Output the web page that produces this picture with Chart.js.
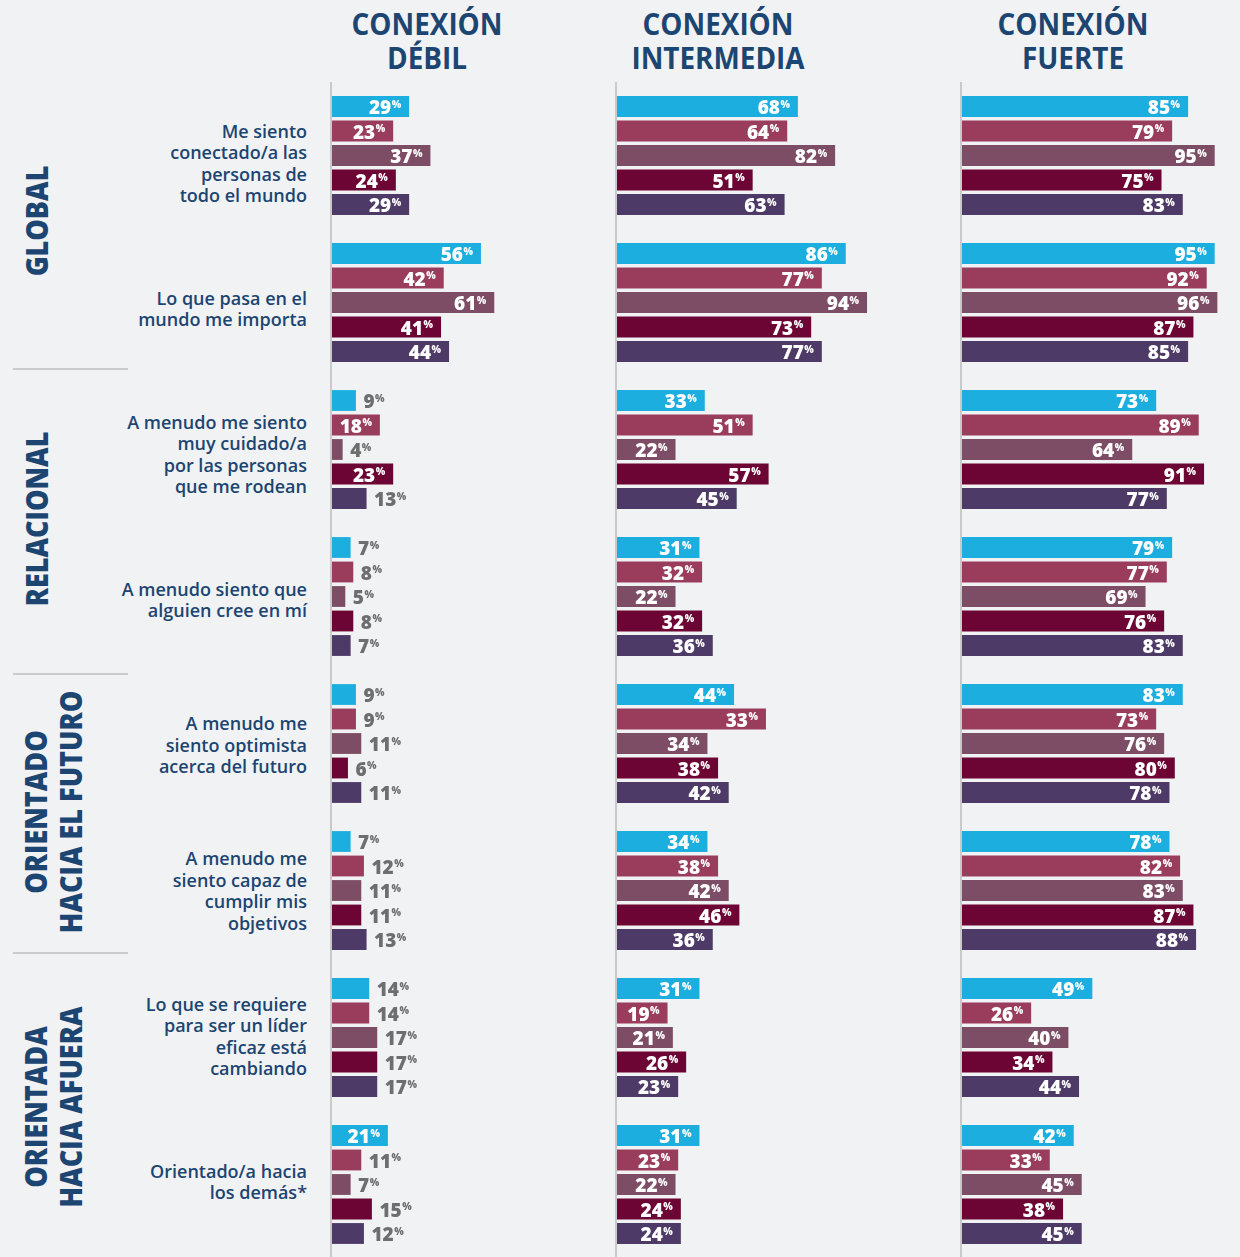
<!DOCTYPE html>
<html lang="es">
<head>
<meta charset="utf-8">
<title>Conexión</title>
<script src="https://cdn.jsdelivr.net/npm/chart.js@4.4.1/dist/chart.umd.min.js"></script>
<style>
  html, body { margin:0; padding:0; background:#f1f2f4; }
  body { width:1240px; height:1257px; overflow:hidden; position:relative; font-family:'Open Sans', sans-serif; }
  .hdr { position:absolute; top:7px; width:320px; margin-left:-160px; text-align:center;
         font:700 30px/34px 'Open Sans', sans-serif; color:#1c4571; transform:scaleX(0.93); }
  .q { position:absolute; right:933px; text-align:right; white-space:nowrap;
       font:600 18px/21.5px 'Open Sans', sans-serif; letter-spacing:0px; color:#1c4571; }
  .sec { position:absolute; text-align:center; white-space:nowrap;
         font:800 30px/35px 'Open Sans', sans-serif; color:#1c4571;
         transform:translate(-50%,-50%) rotate(-90deg) scaleX(0.9); }
  .sep { position:absolute; left:13px; width:115px; height:2px; background:#cbcbcd; }
  canvas { position:absolute; top:82px; }
</style>
</head>
<body>
<canvas id="cDebil" width="268" height="1176" style="left:330px"></canvas>
<canvas id="cInter" width="268" height="1176" style="left:615px"></canvas>
<canvas id="cFuerte" width="268" height="1176" style="left:960px"></canvas>
<script>
// ---------- DATA ----------
const panelTitles = [["CONEXIÓN","DÉBIL"],["CONEXIÓN","INTERMEDIA"],["CONEXIÓN","FUERTE"]];

const categories = [
  ["Me siento","conectado/a las","personas de","todo el mundo"],
  ["Lo que pasa en el","mundo me importa"],
  ["A menudo me siento","muy cuidado/a","por las personas","que me rodean"],
  ["A menudo siento que","alguien cree en mí"],
  ["A menudo me","siento optimista","acerca del futuro"],
  ["A menudo me","siento capaz de","cumplir mis","objetivos"],
  ["Lo que se requiere","para ser un líder","eficaz está","cambiando"],
  ["Orientado/a hacia","los demás*"]
];

const sectionNames = [["GLOBAL"],["RELACIONAL"],["ORIENTADO","HACIA EL FUTURO"],["ORIENTADA","HACIA AFUERA"]];

// Conexión débil (5 series per statement)
const debilSerie1 = [29, 56,  9, 7,  9,  7, 14, 21];
const debilSerie2 = [23, 42, 18, 8,  9, 12, 14, 11];
const debilSerie3 = [37, 61,  4, 5, 11, 11, 17,  7];
const debilSerie4 = [24, 41, 23, 8,  6, 11, 17, 15];
const debilSerie5 = [29, 44, 13, 7, 11, 13, 17, 12];

// Conexión intermedia
const interSerie1 = [68, 86, 33, 31, 44, 34, 31, 31];
const interSerie2 = [64, 77, 51, 32, 56, 38, 19, 23];
const interSerie3 = [82, 94, 22, 22, 34, 42, 21, 22];
const interSerie4 = [51, 73, 57, 32, 38, 46, 26, 24];
const interSerie5 = [63, 77, 45, 36, 42, 36, 23, 24];
// label printed in the source differs from the drawn bar length for this one bar
const interSerie2Printed = [64, 77, 51, 32, 33, 38, 19, 23];

// Conexión fuerte
const fuerteSerie1 = [85, 95, 73, 79, 83, 78, 49, 42];
const fuerteSerie2 = [79, 92, 89, 77, 73, 82, 26, 33];
const fuerteSerie3 = [95, 96, 64, 69, 76, 83, 40, 45];
const fuerteSerie4 = [75, 87, 91, 76, 80, 87, 34, 38];
const fuerteSerie5 = [83, 85, 77, 83, 78, 88, 44, 45];

// ---------- STYLE ----------
const seriesColors = ['#1daee0','#9a3d5d','#7d4d65','#6c0533','#4d3a66'];
const insideThreshold = 18;
const axisColor = '#c9c9cb';

const axisLinePlugin = {
  id:'axisLine',
  beforeDraw(chart){
    const c = chart.ctx;
    c.save();
    c.fillStyle = axisColor;
    c.fillRect(chart.chartArea.left - 2, 0, 2, chart.height);
    c.restore();
  }
};

const valueLabelPlugin = {
  id:'valueLabels',
  afterDatasetsDraw(chart){
    const c = chart.ctx;
    c.save();
    chart.data.datasets.forEach((ds, di) => {
      const meta = chart.getDatasetMeta(di);
      meta.data.forEach((bar, i) => {
        const v = ds.data[i];
        const shown = String(ds.printed ? ds.printed[i] : v);
        c.font = '800 19px "Open Sans"';
        const nW = c.measureText(shown).width;
        c.font = '800 10px "Open Sans"';
        const pW = c.measureText('%').width;
        const inside = v >= insideThreshold;
        const x0 = inside ? bar.x - 8.5 - pW - nW : bar.x + 7.5;
        c.fillStyle = inside ? '#ffffff' : '#6e6e6e';
        c.textAlign = 'left';
        c.textBaseline = 'alphabetic';
        c.font = '800 19px "Open Sans"';
        c.fillText(shown, x0, bar.y + 7.5);
        c.font = '800 10px "Open Sans"';
        c.fillText('%', x0 + nW + 0.5, bar.y + 1.2);
      });
    });
    c.restore();
  }
};

function makePanel(id, series, printed){
  return new Chart(document.getElementById(id), {
    type:'bar',
    data:{
      labels: categories.map(l => l.join(' ')),
      datasets: series.map((d, i) => ({
        data:d,
        printed: printed ? printed[i] : null,
        backgroundColor: seriesColors[i],
        borderWidth:0,
        categoryPercentage: 5/6,
        barPercentage: 0.85
      }))
    },
    options:{
      indexAxis:'y',
      responsive:false,
      maintainAspectRatio:false,
      animation:false,
      events:[],
      layout:{ padding:{ left:2, right:0, top:0, bottom:0 } },
      plugins:{ legend:{display:false}, tooltip:{enabled:false} },
      scales:{
        x:{ display:false, min:0, max:100 },
        y:{ display:false }
      }
    },
    plugins:[axisLinePlugin, valueLabelPlugin]
  });
}

const chDebil = makePanel('cDebil', [debilSerie1,debilSerie2,debilSerie3,debilSerie4,debilSerie5]);
const chInter = makePanel('cInter', [interSerie1,interSerie2,interSerie3,interSerie4,interSerie5],
                          [null, interSerie2Printed, null, null, null]);
const chFuerte = makePanel('cFuerte', [fuerteSerie1,fuerteSerie2,fuerteSerie3,fuerteSerie4,fuerteSerie5]);

// ---------- TEXT LAYOUT ----------
const headerCenters = [427, 718, 1073];
panelTitles.forEach((t, i) => {
  const d = document.createElement('div');
  d.className = 'hdr';
  d.style.left = headerCenters[i] + 'px';
  d.innerHTML = t.join('<br>');
  document.body.appendChild(d);
});

const canvasTop = 82;
categories.forEach((lines, i) => {
  const d = document.createElement('div');
  d.className = 'q';
  d.innerHTML = lines.join('<br>');
  document.body.appendChild(d);
  const cy = canvasTop + chDebil.scales.y.getPixelForValue(i);
  const nudge = 6 - 1.5 * i; // source labels sit on a slightly tighter pitch than the bars
  d.style.top = (cy - d.offsetHeight / 2 + 2 + nudge) + 'px';
});

const sectionCenters = [[36, 221], [36, 519], [53, 812], [53, 1107]];
sectionNames.forEach((lines, i) => {
  const d = document.createElement('div');
  d.className = 'sec';
  d.style.left = sectionCenters[i][0] + 'px';
  d.style.top = sectionCenters[i][1] + 'px';
  d.innerHTML = lines.join('<br>');
  document.body.appendChild(d);
});

[369, 674, 953].forEach(y => {
  const d = document.createElement('div');
  d.className = 'sep';
  d.style.top = (y - 1) + 'px';
  document.body.appendChild(d);
});
</script>
</body>
</html>
